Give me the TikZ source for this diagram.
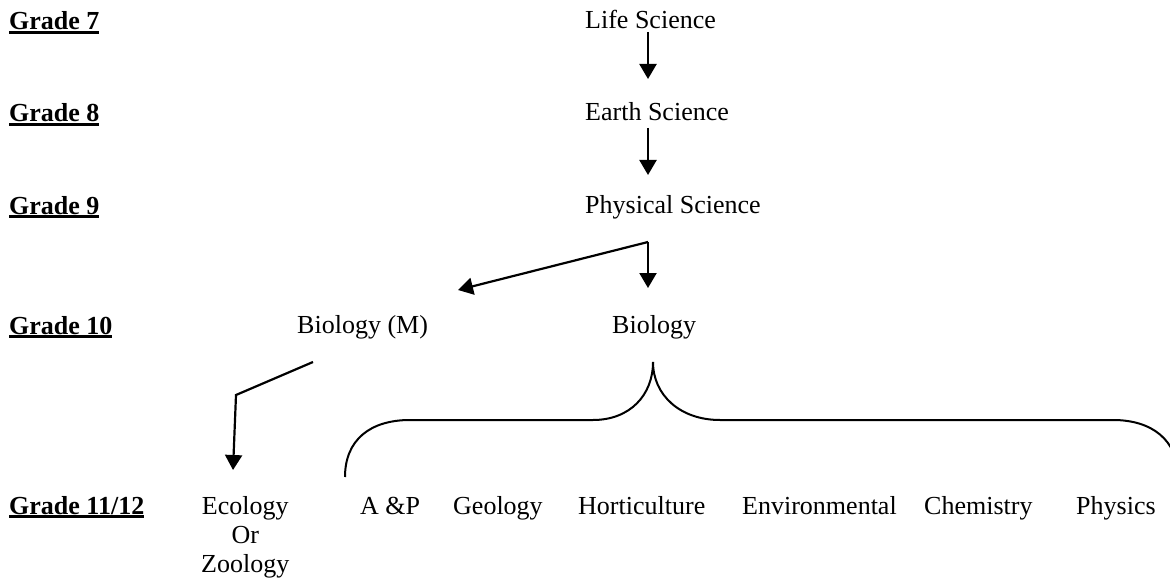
\documentclass[tikz,border=0pt]{standalone}
\usepackage{fontspec}
\setmainfont{Liberation Serif}
\usepackage{tikz}
\usetikzlibrary{arrows.meta, positioning}

\newcommand{\gradeul}[1]{\setbox0\hbox{\bfseries #1}\leavevmode\rlap{\rule[-3.6pt]{\wd0}{2.6pt}}\box0}

\begin{document}
\begin{tikzpicture}[x=1pt, y=-1pt, font=\fontsize{26}{29}\selectfont]
    % Styles
    \tikzstyle{grade} = [anchor=base west, inner sep=0pt]
    \tikzstyle{course} = [anchor=base west, inner sep=0pt]
    \tikzstyle{arrow} = [line width=2.2pt, -{Triangle[width=17pt, length=15pt]}]
    \tikzstyle{brace} = [line width=2pt]

    \useasboundingbox (0,0) rectangle (1170,583);

    % Grades
    \node (g7) [grade] at (9,30) {\gradeul{Grade 7}};
    \node (g8) [grade] at (9,122) {\gradeul{Grade 8}};
    \node (g9) [grade] at (9,214) {\gradeul{Grade 9}};
    \node (g10) [grade] at (9,334) {\gradeul{Grade 10}};
    \node (g11) [grade] at (9,514) {\gradeul{Grade 11/12}};

    % Courses
    \node (life) [course] at (585,29) {Life Science};
    \node (earth) [course] at (585,121) {Earth Science};
    \node (phys) [course] at (585,213) {Physical Science};
    \node (biom) [course] at (297,333) {Biology (M)};
    \node (bio) [course] at (612,333) {Biology};
    \node (eco) [course, align=center] at (201,572) {Ecology\\Or\\Zoology};
    \node (ap) [course] at (360,514) {A \&P};
    \node (geo) [course] at (453,514) {Geology};
    \node (hort) [course] at (578,514) {Horticulture};
    \node (env) [course] at (742,514) {Environmental};
    \node (chem) [course] at (924,514) {Chemistry};
    \node (physics) [course] at (1076,514) {Physics};

    % Arrows
    \draw [arrow] ([shift={(63,3)}]life.base west) -- ([shift={(63,-42)}]earth.base west);
    \draw [arrow] ([shift={(63,7)}]earth.base west) -- ([shift={(63,-38)}]phys.base west);
    \coordinate (split) at ([shift={(63,29)}]phys.base west);
    \draw [arrow] (split) -- ([shift={(36,-45)}]bio.base west);
    \draw [arrow] (split) -- ([shift={(161,-43)}]biom.base west);
    \coordinate (bend) at (236,395);
    \draw [arrow] ([shift={(16,29)}]biom.base west) -- (bend) -- ([shift={(32,-102)}]eco.base west);

    % Brace
    \coordinate (tip) at ([shift={(41,29)}]bio.base west);
    \draw [brace] (345,477) .. controls (345,440) and (370,420) .. (410,420) -- (593,420)
        .. controls (630,420) and (653,395) .. (tip);
    \draw [brace] (tip) .. controls (653,395) and (680,420) .. (720,420) -- (1113,420)
        .. controls (1152,420) and (1178,440) .. (1178,477);
\end{tikzpicture}
\end{document}
